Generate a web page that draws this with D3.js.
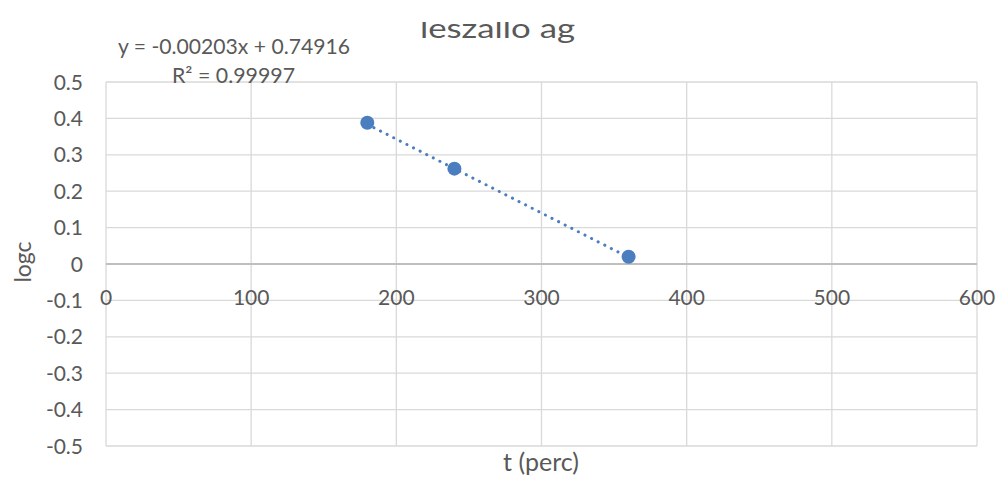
<!DOCTYPE html>
<html><head><meta charset="utf-8">
<script src="https://cdn.jsdelivr.net/npm/d3@7"></script>
<style>body{margin:0;background:#fff}svg{display:block}</style>
</head><body>
<script>
const tValues = [180, 240, 360];
const logcValues = [0.388, 0.262, 0.020];
const xTicks = [0, 100, 200, 300, 400, 500, 600];
const yTicks = [0.5, 0.4, 0.3, 0.2, 0.1, 0, -0.1, -0.2, -0.3, -0.4, -0.5];
const slope = -0.00203, intercept = 0.74916;
const titleText = "leszálló ág";
const eqText = "y = -0.00203x + 0.74916";
const r2Text = "R² = 0.99997";

const W = 998, H = 482;
const font = "Lato, 'Open Sans', sans-serif";
const txt = "#595959";
const svg = d3.select("body").append("svg").attr("width", W).attr("height", H);
const x = d3.scaleLinear().domain([0, 600]).range([106, 977]);
const y = d3.scaleLinear().domain([-0.5, 0.5]).range([446, 82]);

// gridlines
svg.append("g").selectAll("line").data(xTicks).join("line")
  .attr("x1", d => x(d)).attr("x2", d => x(d)).attr("y1", y(0.5)).attr("y2", y(-0.5))
  .attr("stroke", "#d9d9d9").attr("stroke-width", 1.3);
svg.append("g").selectAll("line").data(yTicks).join("line")
  .attr("x1", x(0)).attr("x2", x(600)).attr("y1", d => y(d)).attr("y2", d => y(d))
  .attr("stroke", d => d === 0 ? "#bfbfbf" : "#d9d9d9").attr("stroke-width", d => d === 0 ? 1.8 : 1.3);

// y tick labels
svg.append("g").selectAll("text").data(yTicks).join("text")
  .attr("x", 83).attr("y", d => y(d)).attr("dy", "0.36em").attr("text-anchor", "end")
  .attr("font-family", font).attr("font-size", 21).attr("fill", txt).text(d => d);
// x tick labels
svg.append("g").selectAll("text").data(xTicks).join("text")
  .attr("x", d => x(d)).attr("y", y(0) + 41).attr("text-anchor", "middle")
  .attr("font-family", font).attr("font-size", 21).attr("fill", txt).text(d => d);

// trendline
const x0 = d3.min(tValues), x1 = d3.max(tValues);
svg.append("line")
  .attr("x1", x(x0)).attr("y1", y(slope * x0 + intercept))
  .attr("x2", x(x1)).attr("y2", y(slope * x1 + intercept))
  .attr("stroke", "#4a7ebf").attr("stroke-width", 3).attr("stroke-linecap", "round")
  .attr("stroke-dasharray", "0.1 7.3");

// points
svg.append("g").selectAll("circle").data(tValues).join("circle")
  .attr("cx", d => x(d)).attr("cy", (d, i) => y(logcValues[i])).attr("r", 7)
  .attr("fill", "#4a7ebf");

// title (clipped at top, as in reference)
svg.append("clipPath").attr("id", "tc").append("rect").attr("x", 0).attr("y", 22).attr("width", W).attr("height", 40);
svg.append("text").attr("clip-path", "url(#tc)").attr("x", 420).attr("y", 38)
  .attr("textLength", 155).attr("lengthAdjust", "spacingAndGlyphs")
  .attr("font-family", font).attr("font-size", 27).attr("fill", txt).text(titleText);

// equation
svg.append("text").attr("x", 118).attr("y", 54)
  .attr("textLength", 232).attr("lengthAdjust", "spacingAndGlyphs")
  .attr("font-family", font).attr("font-size", 21).attr("fill", txt).text(eqText);
svg.append("text").attr("x", 172).attr("y", 83)
  .attr("textLength", 123).attr("lengthAdjust", "spacingAndGlyphs")
  .attr("font-family", font).attr("font-size", 21).attr("fill", txt).text(r2Text);

// axis titles
svg.append("text").attr("x", 541).attr("y", 471).attr("text-anchor", "middle")
  .attr("font-family", font).attr("font-size", 25).attr("fill", txt).text("t (perc)");
svg.append("text").attr("transform", "translate(31,262) rotate(-90)").attr("text-anchor", "middle")
  .attr("font-family", font).attr("font-size", 23).attr("fill", txt).text("logc");
</script>
</body></html>
